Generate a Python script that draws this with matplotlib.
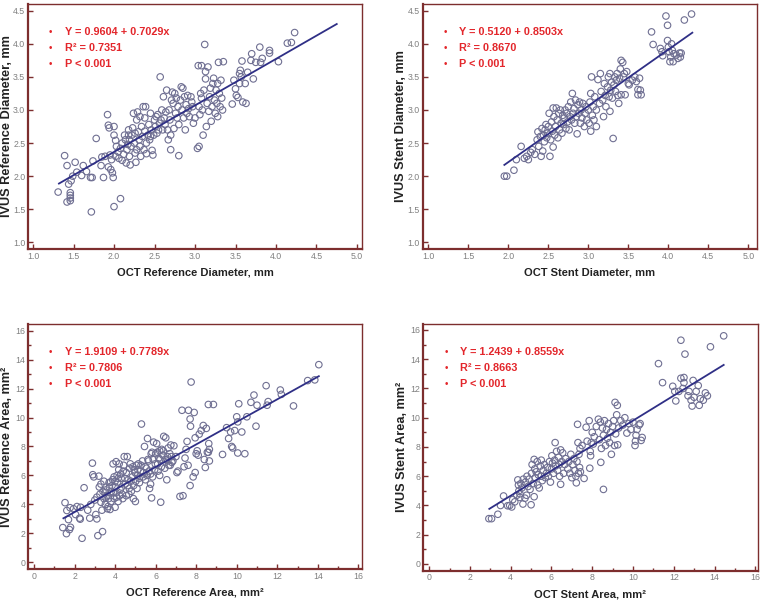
import numpy as np
import matplotlib
matplotlib.use('Agg')
import matplotlib.pyplot as plt
from matplotlib.ticker import FormatStrFormatter

FONT = 'Liberation Sans'
FRAME = '#7d2e2e'
RED = '#e3262b'
LINE = '#2f2f86'
DOT = '#6f6f92'

# ---- data ----
# OCT vs IVUS reference diameter, mm
ref_diam_pts = [
    (1.31, 1.76), (1.39, 2.31), (1.42, 2.16), (1.42, 1.61), (1.46, 1.63), (1.46, 1.67),
    (1.46, 1.71), (1.46, 1.75), (1.44, 1.88), (1.47, 1.93), (1.49, 2.00), (1.52, 2.21),
    (1.54, 2.06), (1.60, 2.01), (1.62, 2.16), (1.66, 2.07), (1.71, 1.98), (1.73, 1.98),
    (1.74, 2.23), (1.72, 1.46), (1.78, 2.57), (1.84, 2.16), (1.85, 2.29), (1.87, 1.98),
    (1.89, 2.30), (1.92, 2.93), (1.93, 2.77), (1.94, 2.73), (1.93, 2.14), (1.96, 2.10),
    (1.98, 2.05), (1.99, 1.98), (1.97, 2.25), (1.95, 2.32), (2.00, 1.54), (2.08, 1.66),
    (2.00, 2.75), (2.00, 2.62), (2.02, 2.54), (2.03, 2.45), (2.05, 2.37), (2.02, 2.30),
    (2.06, 2.27), (2.08, 2.42), (2.10, 2.50), (2.12, 2.33), (2.14, 2.55), (2.15, 2.20),
    (2.16, 2.40), (2.17, 2.48), (2.18, 2.62), (2.19, 2.30), (2.20, 2.17), (2.21, 2.45),
    (2.10, 2.24), (2.13, 2.62), (2.18, 2.70), (2.19, 2.55), (2.22, 2.62), (2.23, 2.73),
    (2.24, 2.95), (2.25, 2.50), (2.26, 2.35), (2.27, 2.21), (2.28, 2.40), (2.28, 2.85),
    (2.29, 2.97), (2.30, 2.67), (2.31, 2.55), (2.32, 2.45), (2.33, 2.30), (2.34, 2.75),
    (2.35, 2.60), (2.36, 3.05), (2.37, 2.40), (2.38, 2.68), (2.38, 2.88), (2.39, 3.05),
    (2.40, 2.50), (2.40, 2.34), (2.26, 2.65), (2.32, 2.90), (2.42, 2.62), (2.43, 2.78),
    (2.44, 2.55), (2.45, 2.95), (2.46, 2.70), (2.47, 2.39), (2.48, 2.32), (2.49, 2.62),
    (2.50, 2.85), (2.51, 2.75), (2.52, 2.90), (2.53, 2.65), (2.54, 2.93), (2.55, 2.70),
    (2.56, 2.80), (2.57, 3.50), (2.58, 2.85), (2.59, 3.00), (2.60, 2.70), (2.45, 2.60),
    (2.61, 3.20), (2.62, 2.88), (2.63, 2.78), (2.64, 2.97), (2.65, 3.30), (2.66, 2.70),
    (2.67, 2.55), (2.68, 3.00), (2.69, 2.85), (2.70, 2.40), (2.70, 2.62), (2.71, 3.15),
    (2.72, 3.27), (2.73, 3.10), (2.74, 2.72), (2.75, 3.25), (2.76, 2.95), (2.77, 3.18),
    (2.78, 2.88), (2.79, 3.05), (2.80, 2.31), (2.80, 2.78), (2.82, 3.15), (2.83, 3.35),
    (2.84, 3.00), (2.85, 3.33), (2.86, 2.88), (2.87, 3.20), (2.88, 2.70), (2.89, 3.08),
    (2.90, 2.95), (2.91, 3.22), (2.92, 3.02), (2.93, 2.90), (2.95, 3.20), (2.97, 3.05),
    (2.98, 2.80), (3.00, 2.88), (2.96, 3.12), (3.03, 2.42), (3.05, 2.45), (3.04, 3.67),
    (3.05, 3.05), (3.06, 2.93), (3.07, 3.25), (3.08, 3.67), (3.09, 3.00), (3.10, 2.62),
    (3.11, 3.30), (3.12, 3.99), (3.13, 3.58), (3.13, 3.47), (3.14, 2.75), (3.15, 3.10),
    (3.16, 3.65), (3.17, 2.98), (3.18, 3.20), (3.19, 3.33), (3.20, 2.83), (3.08, 3.18),
    (3.21, 3.05), (3.22, 3.40), (3.23, 3.48), (3.24, 3.15), (3.25, 2.95), (3.26, 3.30),
    (3.27, 3.10), (3.28, 2.90), (3.29, 3.72), (3.30, 3.25), (3.31, 3.05), (3.32, 3.45),
    (3.33, 3.18), (3.34, 3.00), (3.35, 3.73), (3.28, 3.40), (3.46, 3.09), (3.48, 3.45),
    (3.50, 3.32), (3.51, 3.22), (3.53, 3.19), (3.55, 3.40), (3.56, 3.60), (3.57, 3.50),
    (3.58, 3.74), (3.59, 3.12), (3.62, 3.40), (3.63, 3.10), (3.65, 3.57), (3.70, 3.85),
    (3.69, 3.75), (3.72, 3.47), (3.75, 3.72), (3.55, 3.55), (3.80, 3.95), (3.81, 3.72),
    (3.83, 3.78), (3.92, 3.90), (3.92, 3.86), (4.03, 3.73), (4.14, 4.01), (4.19, 4.02),
    (4.23, 4.17),
]

# OCT vs IVUS stent diameter, mm
stent_diam_pts = [
    (1.95, 2.00), (1.98, 2.00), (2.07, 2.09), (2.10, 2.25), (2.16, 2.45), (2.20, 2.27),
    (2.23, 2.30), (2.25, 2.25), (2.28, 2.36), (2.30, 2.40), (2.33, 2.33), (2.36, 2.55),
    (2.37, 2.67), (2.38, 2.45), (2.40, 2.60), (2.41, 2.30), (2.42, 2.72), (2.43, 2.38),
    (2.44, 2.62), (2.45, 2.52), (2.46, 2.70), (2.47, 2.78), (2.48, 2.58), (2.49, 2.65),
    (2.50, 2.75), (2.51, 2.95), (2.52, 2.30), (2.53, 2.55), (2.54, 2.82), (2.55, 2.68),
    (2.56, 3.03), (2.56, 2.44), (2.57, 2.90), (2.58, 2.62), (2.59, 2.75), (2.60, 3.03),
    (2.61, 2.85), (2.62, 2.58), (2.63, 2.95), (2.64, 2.70), (2.65, 3.00), (2.66, 2.80),
    (2.67, 2.65), (2.68, 2.92), (2.69, 2.78), (2.70, 2.88), (2.71, 3.00), (2.72, 2.72),
    (2.73, 2.95), (2.74, 2.82), (2.75, 3.05), (2.76, 2.70), (2.77, 2.90), (2.78, 3.12),
    (2.79, 2.85), (2.80, 3.25), (2.81, 2.95), (2.82, 3.02), (2.83, 2.80), (2.84, 3.15),
    (2.85, 2.90), (2.86, 2.64), (2.87, 3.08), (2.88, 2.95), (2.89, 3.12), (2.90, 2.80),
    (2.91, 3.00), (2.92, 2.88), (2.93, 3.10), (2.95, 2.75), (2.96, 2.95), (2.97, 3.05),
    (2.98, 2.85), (3.00, 3.00), (3.01, 2.80), (3.02, 3.12), (3.03, 3.25), (3.03, 2.68),
    (3.04, 3.50), (3.05, 2.92), (3.06, 3.05), (3.07, 2.85), (3.08, 3.20), (3.10, 2.75),
    (3.10, 3.00), (3.12, 3.46), (3.14, 3.10), (3.15, 3.55), (3.16, 3.28), (3.18, 3.15),
    (3.19, 2.90), (3.20, 3.40), (3.21, 3.22), (3.22, 3.05), (3.24, 3.35), (3.25, 3.50),
    (3.26, 3.20), (3.27, 3.55), (3.27, 2.98), (3.28, 3.30), (3.29, 3.42), (3.30, 3.18),
    (3.31, 2.57), (3.32, 3.38), (3.33, 3.50), (3.34, 3.28), (3.35, 3.45), (3.36, 3.55),
    (3.37, 3.22), (3.38, 3.10), (3.39, 3.48), (3.40, 3.62), (3.41, 3.75), (3.41, 3.23),
    (3.43, 3.72), (3.44, 3.50), (3.45, 3.55), (3.46, 3.23), (3.48, 3.58), (3.50, 3.40),
    (3.51, 3.38), (3.55, 3.45), (3.58, 3.50), (3.60, 3.43), (3.62, 3.31), (3.62, 3.23),
    (3.64, 3.48), (3.65, 3.30), (3.66, 3.23), (3.79, 4.18), (3.81, 3.99), (3.90, 3.93),
    (3.92, 3.88), (3.93, 3.82), (3.97, 4.42), (3.99, 4.28), (3.99, 4.05), (4.00, 3.95),
    (4.01, 3.88), (4.02, 3.73), (4.03, 3.80), (4.05, 3.90), (4.06, 3.73), (4.07, 3.85),
    (4.10, 3.83), (4.12, 3.78), (4.14, 3.86), (4.15, 3.80), (4.16, 3.86), (4.20, 4.36),
    (4.29, 4.45), (4.04, 4.00),
]

# OCT vs IVUS reference area, mm2
ref_area_pts = [
    (1.42, 2.40), (1.53, 4.12), (1.60, 1.98), (1.62, 3.58), (1.70, 2.95), (1.75, 2.26),
    (1.80, 2.42), (1.78, 3.77), (1.95, 3.70), (2.05, 3.30), (2.12, 3.85), (2.25, 3.05),
    (2.28, 2.98), (2.37, 1.66), (2.47, 5.15), (2.30, 3.80), (2.65, 3.60), (2.75, 3.05),
    (2.80, 4.00), (2.88, 6.85), (2.90, 6.05), (2.95, 5.90), (3.00, 4.30), (3.05, 3.30),
    (3.10, 3.00), (3.15, 1.84), (3.20, 5.95), (3.22, 5.20), (3.25, 4.70), (3.30, 4.15),
    (3.38, 2.12), (3.40, 4.90), (3.45, 4.40), (3.30, 5.40), (3.10, 4.50), (3.52, 4.00),
    (3.55, 5.00), (3.60, 4.60), (3.65, 3.85), (3.70, 5.50), (3.75, 3.65), (3.80, 4.20),
    (3.85, 5.30), (3.90, 6.80), (3.92, 4.80), (3.95, 5.90), (4.00, 3.80), (4.02, 5.20),
    (4.05, 6.95), (4.08, 4.50), (4.10, 6.00), (4.12, 5.50), (4.15, 4.20), (4.20, 6.80),
    (4.25, 5.00), (4.30, 5.80), (4.35, 4.70), (4.40, 6.30), (4.45, 7.30), (4.50, 5.40),
    (3.55, 4.50), (3.78, 5.55), (4.55, 4.60), (4.60, 7.30), (4.65, 5.70), (4.70, 5.10),
    (4.75, 6.80), (4.80, 4.90), (4.85, 5.90), (4.90, 4.40), (4.95, 6.40), (5.00, 4.20),
    (5.02, 5.60), (5.05, 6.70), (5.10, 6.00), (5.15, 6.80), (5.20, 5.50), (5.25, 6.30),
    (5.30, 9.55), (5.35, 7.00), (5.40, 6.20), (5.45, 8.00), (5.50, 5.70), (5.55, 6.50),
    (5.60, 8.55), (5.65, 7.00), (5.70, 5.10), (5.75, 6.10), (5.80, 4.45), (5.82, 7.60),
    (5.85, 5.90), (5.90, 8.30), (5.95, 6.40), (6.00, 7.50), (6.05, 8.20), (6.10, 6.80),
    (6.15, 7.20), (6.20, 6.00), (6.25, 4.15), (6.30, 7.80), (6.35, 7.40), (6.40, 8.70),
    (6.45, 6.50), (6.50, 8.60), (5.75, 5.40), (6.20, 7.70), (6.55, 5.70), (6.60, 7.00),
    (6.65, 6.70), (6.70, 7.50), (6.75, 8.10), (6.80, 6.90), (6.90, 8.05), (7.00, 7.30),
    (7.05, 6.20), (7.10, 6.30), (7.20, 4.55), (7.30, 10.50), (7.35, 4.60), (7.40, 6.60),
    (7.45, 7.20), (7.50, 7.80), (7.55, 8.35), (7.60, 6.70), (7.62, 10.50), (6.85, 7.00),
    (7.70, 9.90), (7.72, 9.40), (7.75, 12.45), (7.70, 5.30), (7.85, 5.90), (7.90, 10.35),
    (7.95, 6.20), (8.00, 7.50), (8.05, 7.70), (8.10, 7.40), (8.15, 8.85), (8.25, 9.10),
    (8.35, 9.45), (8.40, 7.10), (8.45, 6.55), (8.50, 9.25), (8.55, 7.60), (7.95, 8.60),
    (8.60, 10.90), (8.62, 8.20), (8.65, 7.80), (8.65, 7.00), (8.60, 7.60), (8.85, 10.90),
    (9.30, 7.45), (9.50, 9.30), (9.60, 8.55), (9.70, 9.00), (9.75, 8.00), (9.80, 7.90),
    (9.90, 9.10), (10.00, 10.05), (10.05, 7.55), (10.05, 9.70), (10.10, 10.95), (10.25, 9.00),
    (10.40, 7.50), (10.50, 10.05), (10.70, 11.05), (10.85, 11.55), (10.95, 9.40), (11.00, 10.85),
    (11.45, 12.20), (11.50, 10.85), (11.55, 11.10), (12.15, 11.90), (12.20, 11.60), (12.80, 10.80),
    (13.50, 12.55), (13.85, 12.60), (14.05, 13.65),
    (3.35, 3.60), (3.45, 5.60), (3.50, 4.80), (3.62, 3.70), (3.68, 4.40), (3.72, 5.20),
    (3.82, 4.90), (3.88, 5.70), (3.95, 4.40), (4.00, 5.60), (4.05, 4.80), (4.15, 5.80),
    (4.18, 6.40), (4.22, 4.60), (4.28, 6.10), (4.32, 5.20), (4.38, 4.40), (4.42, 6.70),
    (4.48, 5.80), (4.55, 6.20), (4.62, 5.30), (4.68, 4.70), (4.72, 6.50), (4.78, 5.60),
    (4.88, 6.60), (4.92, 5.30), (4.98, 6.20), (5.08, 5.10), (5.12, 6.40), (5.18, 5.80),
    (5.28, 6.70), (5.38, 5.90), (5.48, 6.60), (5.58, 6.00), (5.62, 7.10), (5.68, 6.30),
    (5.78, 7.50), (5.88, 7.10), (5.98, 6.80), (6.08, 7.60), (6.12, 6.30), (6.22, 7.10),
    (6.28, 6.60), (6.38, 7.70), (6.48, 7.10), (6.58, 7.30), (6.62, 7.90), (6.72, 6.70),
    (6.78, 7.30),
]

# OCT vs IVUS stent area, mm2
stent_area_pts = [
    (2.93, 3.10), (3.06, 3.10), (3.37, 3.40), (3.50, 4.00), (3.65, 4.65), (3.85, 3.98),
    (3.95, 4.00), (4.05, 3.90), (4.10, 4.40), (4.20, 4.25), (4.30, 4.70), (4.35, 5.75),
    (4.38, 5.40), (4.40, 5.00), (4.45, 4.80), (4.50, 5.50), (4.45, 4.55), (4.55, 5.20),
    (4.60, 4.10), (4.62, 5.80), (4.70, 4.50), (4.72, 5.60), (4.78, 4.70), (4.80, 6.00),
    (4.85, 5.30), (4.90, 5.80), (4.95, 5.10), (5.00, 4.05), (5.02, 6.20), (5.05, 6.80),
    (5.10, 5.50), (5.15, 4.60), (5.15, 7.15), (5.18, 6.50), (5.20, 5.90), (5.25, 6.30),
    (5.30, 7.00), (5.32, 5.40), (5.35, 6.10), (5.40, 5.20), (5.45, 6.70), (5.50, 6.00),
    (5.50, 7.10), (5.55, 5.70), (5.60, 6.40), (5.65, 6.80), (5.70, 5.90), (5.75, 6.20),
    (5.80, 6.60), (5.85, 6.00), (5.90, 7.00), (5.95, 5.60), (6.00, 6.50), (6.02, 7.40),
    (6.05, 6.90), (6.10, 6.20), (6.15, 7.10), (6.18, 8.30), (6.20, 6.70), (6.25, 7.70),
    (6.30, 6.40), (6.35, 7.30), (6.40, 6.00), (6.45, 5.45), (6.45, 7.80), (6.50, 7.00),
    (6.38, 6.80), (6.55, 7.60), (6.60, 6.20), (6.65, 6.80), (6.70, 7.20), (6.80, 6.50),
    (6.85, 7.00), (6.90, 6.20), (6.95, 7.50), (7.00, 5.90), (7.05, 6.80), (7.10, 7.20),
    (7.15, 6.40), (7.20, 6.00), (7.22, 5.55), (7.25, 7.00), (7.28, 9.55), (7.30, 8.30),
    (7.32, 6.20), (7.35, 7.50), (7.38, 6.60), (7.40, 7.90), (7.42, 6.30), (7.50, 8.10),
    (7.60, 5.85), (7.70, 9.35), (7.75, 8.40), (7.85, 9.80), (7.88, 6.55), (7.90, 7.70),
    (7.92, 7.40), (7.95, 8.30), (8.00, 9.00), (8.05, 8.20), (8.10, 8.70), (8.20, 9.40),
    (8.30, 9.90), (8.35, 8.50), (8.40, 9.70), (8.42, 6.95), (8.45, 7.90), (8.50, 9.30),
    (8.55, 5.10), (8.55, 8.80), (8.60, 9.80), (8.65, 8.10), (8.70, 9.20), (8.75, 8.60),
    (8.80, 9.60), (8.85, 8.30), (8.90, 9.00), (8.94, 7.50), (9.00, 9.40), (9.05, 9.80),
    (9.10, 8.10), (9.12, 11.05), (9.15, 8.90), (9.20, 10.20), (9.23, 10.85), (9.25, 8.15),
    (9.30, 9.30), (9.40, 9.80), (9.50, 9.50), (9.60, 10.00), (9.70, 8.95), (9.80, 9.60),
    (9.90, 9.20), (10.00, 9.70), (10.10, 8.10), (10.12, 8.40), (10.15, 8.80), (10.20, 9.20),
    (10.30, 9.50), (10.35, 9.60), (10.40, 8.45), (10.45, 8.65), (11.25, 13.70), (11.45, 12.40),
    (11.95, 12.15), (12.05, 11.80), (12.10, 11.15), (12.25, 11.80), (12.35, 15.30), (12.35, 12.70),
    (12.45, 12.00), (12.50, 12.75), (12.55, 14.35), (12.50, 12.40), (12.70, 11.50), (12.75, 11.80),
    (12.85, 11.20), (12.90, 10.80), (12.95, 12.55), (13.00, 11.40), (13.10, 11.80), (13.20, 12.20),
    (13.25, 10.85), (13.30, 11.30), (13.45, 11.20), (13.55, 11.70), (13.65, 11.50), (13.80, 14.85),
    (14.45, 15.60),
]

# regression results printed on each panel
intercepts = [0.9604, 0.5120, 1.9109, 1.2439]
slopes = [0.7029, 0.8503, 0.7789, 0.8559]
r2_values = ['0.7351', '0.8670', '0.7806', '0.8663']
fit_ranges = [(1.32, 4.75), (1.95, 4.30), (1.45, 14.05), (2.95, 14.45)]

x_labels = ['OCT Reference Diameter, mm', 'OCT Stent Diameter, mm',
            'OCT Reference Area, mm²', 'OCT Stent Area, mm²']
y_labels = ['IVUS Reference Diameter, mm', 'IVUS Stent Diameter, mm',
            'IVUS Reference Area, mm²', 'IVUS Stent Area, mm²']

# layout (figure fractions) and axis limits
rects = [
    [0.0368, 0.5877, 0.4389, 0.4056],
    [0.5555, 0.5877, 0.4389, 0.4056],
    [0.0368, 0.0580, 0.4389, 0.4056],
    [0.5562, 0.0551, 0.4395, 0.4085],
]
xlims = [(0.938, 5.062), (0.93, 5.105), (-0.296, 16.18), (-0.29, 16.12)]
ylims = [(0.899, 4.601), (0.899, 4.601), (-0.46, 16.46), (-0.46, 16.41)]
ylabel_x = [-0.046, -0.047, -0.046, -0.045]


def draw_panel(fig, i, pts):
    ax = fig.add_axes(rects[i])
    pts = np.array(pts)
    ax.scatter(pts[:, 0], pts[:, 1], s=22, facecolors='none', edgecolors=DOT,
               linewidths=0.8, zorder=2)
    xx = np.array(fit_ranges[i])
    ax.plot(xx, intercepts[i] + slopes[i] * xx, color=LINE, lw=1.3, zorder=3)

    ax.set_xlim(*xlims[i])
    ax.set_ylim(*ylims[i])
    if i < 2:
        ax.set_xticks(np.arange(1.0, 5.01, 0.5))
        ax.set_yticks(np.arange(1.0, 4.51, 0.5))
        ax.xaxis.set_major_formatter(FormatStrFormatter('%.1f'))
        ax.yaxis.set_major_formatter(FormatStrFormatter('%.1f'))
    else:
        ax.set_xticks(np.arange(0, 17, 2))
        ax.set_yticks(np.arange(0, 17, 2))
        ax.set_xticks(np.arange(1, 16, 2), minor=True)
        ax.set_yticks(np.arange(1, 16, 2), minor=True)

    for side in ['left', 'bottom']:
        ax.spines[side].set_color(FRAME)
        ax.spines[side].set_linewidth(1.6)
    for side in ['top', 'right']:
        ax.spines[side].set_color(FRAME)
        ax.spines[side].set_linewidth(1.0)
    ax.tick_params(which='major', direction='in', length=3.5, width=1.0, color=FRAME,
                   labelcolor='#808080', labelsize=6.3, pad=2)
    ax.tick_params(which='minor', direction='in', length=2.5, width=1.0, color=FRAME)
    for lab in ax.get_xticklabels() + ax.get_yticklabels():
        lab.set_fontfamily(FONT)

    ax.set_xlabel(x_labels[i], fontsize=8, fontweight='bold', family=FONT, color='#222222')
    ax.xaxis.set_label_coords(0.5, -0.075)
    ax.set_ylabel(y_labels[i], fontsize=9.2, fontweight='bold', family=FONT, color='#222222')
    ax.yaxis.set_label_coords(ylabel_x[i], 0.5)

    lines = ['Y = %.4f + %.4fx' % (intercepts[i], slopes[i]),
             'R² = ' + r2_values[i],
             'P < 0.001']
    for k, txt in enumerate(lines):
        yy = 0.885 - k * 0.064
        ax.text(0.068, yy, '•', transform=ax.transAxes, color=RED, fontsize=7,
                va='center', ha='center', family=FONT)
        ax.text(0.11, yy, txt, transform=ax.transAxes, color=RED, fontsize=7.8,
                fontweight='bold', va='center', ha='left', family=FONT)
    return ax


fig = plt.figure(figsize=(7.61, 6.04), dpi=100)
for i, pts in enumerate([ref_diam_pts, stent_diam_pts, ref_area_pts, stent_area_pts]):
    draw_panel(fig, i, pts)

fig.savefig('out.png', dpi=100, facecolor='white')
